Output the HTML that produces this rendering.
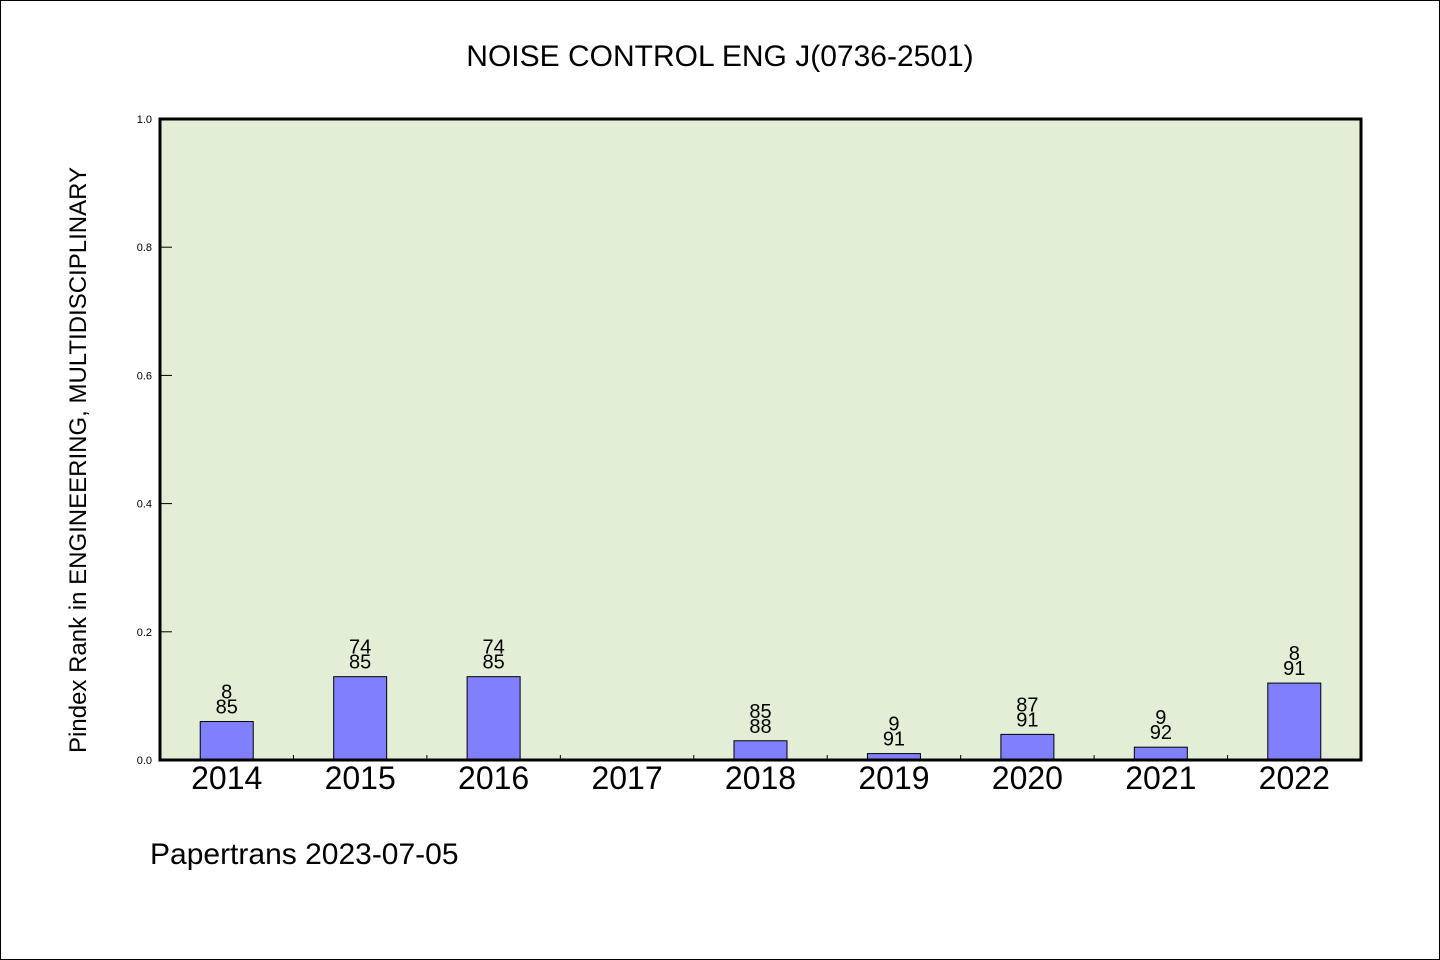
<!DOCTYPE html>
<html><head><meta charset="utf-8"><style>
body{margin:0;width:1440px;height:960px;background:#fff;overflow:hidden}
svg{display:block}
text{font-family:"WenQuanYi Zen Hei","Liberation Sans",sans-serif;fill:#000}
</style></head><body>
<svg id="chart" width="1440" height="960">
<rect x="0.5" y="0.5" width="1439" height="959" fill="#fff" stroke="#000"/>
<text x="720" y="66" font-size="30" text-anchor="middle">NOISE CONTROL ENG J(0736-2501)</text>
<rect x="160" y="119" width="1201" height="641" fill="#e2efd6"/>
<g id="bars"></g>
<rect x="160" y="119" width="1201" height="641" fill="none" stroke="#000" stroke-width="3"/>
<text transform="translate(86,460) rotate(-90)" font-size="24" text-anchor="middle">Pindex Rank in ENGINEERING, MULTIDISCIPLINARY</text>
<text x="150" y="864" font-size="30">Papertrans 2023-07-05</text>
</svg>
<script>
const categories=["2014","2015","2016","2017","2018","2019","2020","2021","2022"];
const values=[0.06,0.13,0.13,0,0.03,0.01,0.04,0.02,0.12];
const topLabels=["8","74","74","","85","9","87","9","8"];
const bottomLabels=["85","85","85","","88","91","91","92","91"];
const yTicks=[0,0.2,0.4,0.6,0.8,1.0];
const X0=160,W=1201,Y0=760,H=641;
const NS="http://www.w3.org/2000/svg";
const svg=document.getElementById('chart');
const g=document.getElementById('bars');
const step=W/categories.length;
const y=v=>Y0-v*H;
const xc=i=>X0+step*(i+0.5);
function mk(t,a,p){const e=document.createElementNS(NS,t);for(const k in a)e.setAttribute(k,a[k]);(p||g).appendChild(e);return e;}
yTicks.forEach(t=>{
  const l=mk('line',{x1:X0,x2:X0+12,y1:y(t),y2:y(t),stroke:'#000'});
  
  
  const tx=mk('text',{x:X0-8,y:y(t)+4,'font-size':11,'text-anchor':'end'},svg);
  
  
  tx.textContent=t.toFixed(1);
});
categories.forEach((c,i)=>{
  if(i>0){const tk=mk('line',{x1:X0+step*i,x2:X0+step*i,y1:Y0,y2:Y0-5,stroke:'#000'});
    
    }
  const bw=53,v=values[i];
  if(v>0){const r=mk('rect',{x:xc(i)-bw/2,y:y(v),width:bw,height:Y0-y(v),fill:'#8080ff',stroke:'#000'});
    
    }
  if(topLabels[i]){
    const t1=mk('text',{x:xc(i),y:y(v)-23,'font-size':20,'text-anchor':'middle'});
    
    
    t1.textContent=topLabels[i];
    const t2=mk('text',{x:xc(i),y:y(v)-8,'font-size':20,'text-anchor':'middle'});
    
    
    t2.textContent=bottomLabels[i];
  }
  const xl=mk('text',{x:xc(i),y:Y0+29,'font-size':32,'text-anchor':'middle'},svg);
  
  
  xl.textContent=c;
});
</script>
</body></html>
